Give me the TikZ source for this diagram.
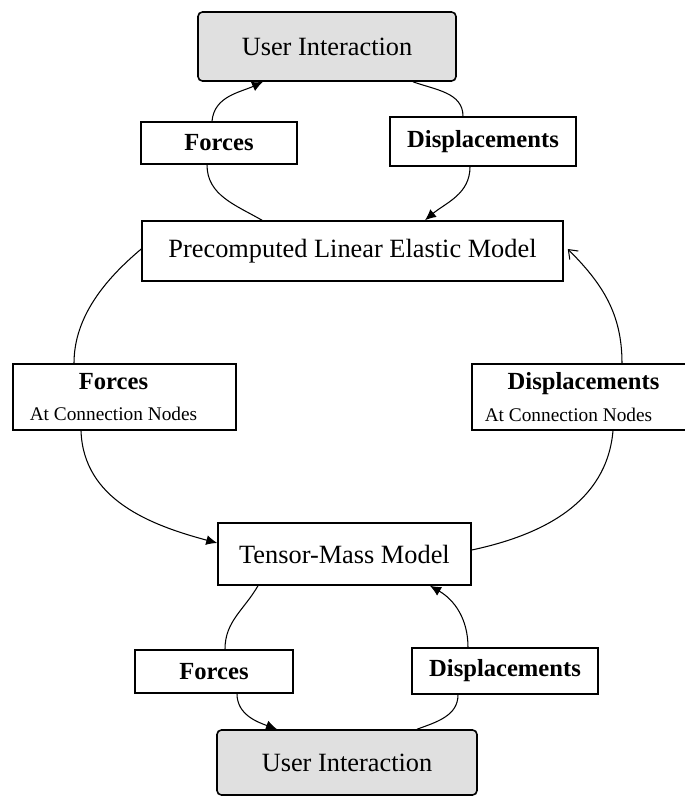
\documentclass[tikz,border=0pt]{standalone}
\usepackage{fontspec}
\setmainfont{Liberation Serif}
\usepackage{xcolor}
\usetikzlibrary{arrows.meta,calc}
\definecolor{uigray}{RGB}{224,224,224}
\newcommand{\subtxt}[1]{{\fontsize{11}{13}\selectfont\mdseries #1}}

\begin{document}
\begin{tikzpicture}[x=0.02cm,y=0.02cm,
  box/.style={draw,line width=0.9pt,fill=white,inner sep=0pt,font=\fontsize{15}{18}\selectfont},
  ui/.style={box,fill=uigray,rounded corners=2.5pt},
  lbl/.style={draw,line width=0.9pt,fill=white,inner sep=0pt,align=center,
    font=\fontsize{14}{17}\selectfont\bfseries},
  con/.style={line width=0.6pt},
  arr/.style={con,-{Latex[length=2.2mm,width=2mm]}}]
 \useasboundingbox (0,0) rectangle (685,796);
 \node[ui,minimum width=5.16cm,minimum height=1.38cm]  (uiT) at (327,749.5) {User Interaction};
 \node[lbl,minimum width=3.12cm,minimum height=0.84cm] (fT)  at (219,653)   {Forces};
 \node[lbl,minimum width=3.72cm,minimum height=0.98cm] (dT)  at (483,654.5) {Displacements};
 \node[box,minimum width=8.42cm,minimum height=1.2cm]  (pre) at (352.5,545) {Precomputed Linear Elastic Model};
 \node[lbl,minimum width=4.46cm,minimum height=1.32cm] (fM)  at (124.5,399)
   {Forces\hspace*{0.44cm}\\[1pt] \subtxt{At Connection Nodes}\hspace*{0.44cm}};
 \node[lbl,minimum width=4.46cm,minimum height=1.32cm] (dM)  at (583.5,399)
   {Displacements\\[1pt] \subtxt{At Connection Nodes}\hspace*{0.6cm}};
 \node[box,minimum width=5.06cm,minimum height=1.24cm] (tm)  at (344.5,242) {Tensor-Mass Model};
 \node[lbl,minimum width=3.16cm,minimum height=0.86cm] (fB)  at (214,124.5) {Forces};
 \node[lbl,minimum width=3.72cm,minimum height=0.92cm] (dB)  at (505,125)   {Displacements};
 \node[ui,minimum width=5.2cm,minimum height=1.3cm]    (uiB) at (347,33.5)  {User Interaction};

 \draw[con] ($(pre.north)+(-90.5,0)$) to[out=150,in=270] ($(fT.south)+(-12,0)$);
 \draw[arr] ($(fT.north)+(-7,0)$) to[out=85,in=205] ($(uiT.south)+(-64,0)$);
 \draw[con] ($(uiT.south)+(86,0)$) to[out=-20,in=90] ($(dT.north)+(-20,0)$);
 \draw[arr] ($(dT.south)+(-13,0)$) to[out=270,in=40] ($(pre.north)+(72.5,0)$);

 \draw[con] ($(pre.west)+(0,2)$) to[out=220,in=90,looseness=0.9] ($(fM.north)+(-50.5,0)$);
 \draw[arr] ($(fM.south)+(-43.5,0)$) to[out=272,in=165] ($(tm.west)+(0,11)$);
 \draw[con] ($(tm.east)+(0,4)$) to[out=12,in=265] ($(dM.south)+(29.5,0)$);
 \draw[con,-{Straight Barb[length=1.6mm,width=2.4mm]}] ($(dM.north)+(38.5,0)$)
   to[out=90,in=-45] ($(pre.east)+(4,2)$);

 \draw[con] ($(tm.south)+(-86.5,0)$) to[out=240,in=90] ($(fB.north)+(11,0)$);
 \draw[arr] ($(fB.south)+(23,0)$) to[out=270,in=160] ($(uiB.north)+(-70,0)$);
 \draw[con] ($(uiB.north)+(70,0)$) to[out=20,in=270] ($(dB.south)+(-47,0)$);
 \draw[arr] ($(dB.north)+(-37,0)$) to[out=90,in=-30] ($(tm.south)+(85.5,0)$);
\end{tikzpicture}
\end{document}
